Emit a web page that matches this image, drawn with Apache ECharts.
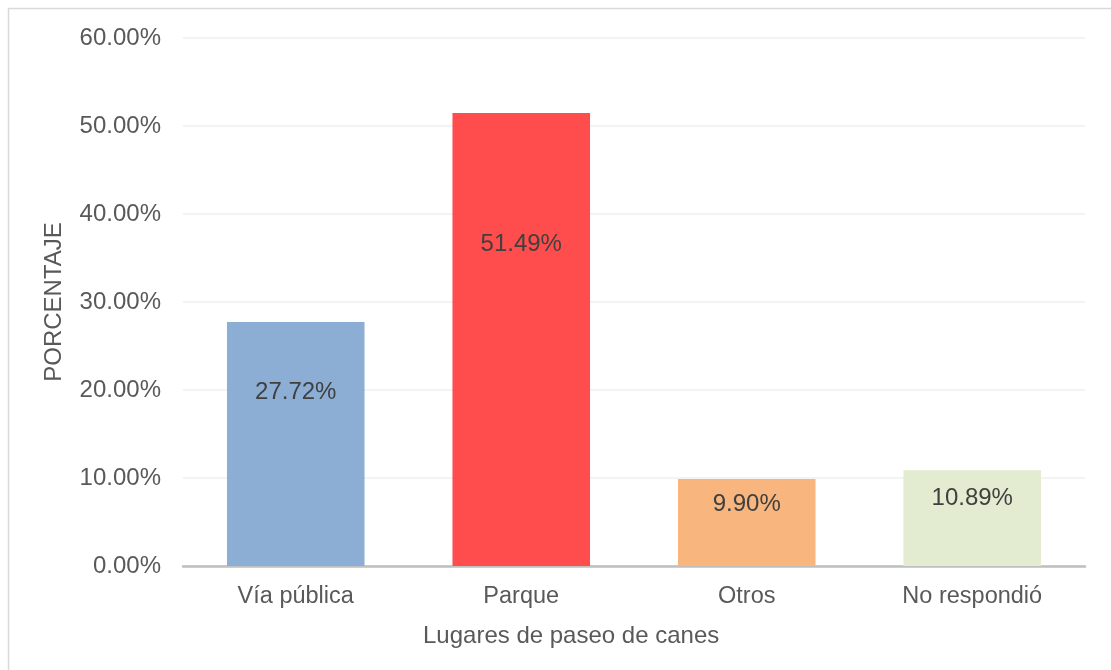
<!DOCTYPE html>
<html>
<head>
<meta charset="utf-8">
<script src="https://cdn.jsdelivr.net/npm/echarts@6/dist/echarts.min.js"></script>
<style>
  html, body { margin: 0; padding: 0; background: #fff; }
  #main { width: 1111px; height: 670px; }
</style>
</head>
<body>
<div id="main"></div>
<script>
// datos del gráfico
var categorias = ['Vía pública', 'Parque', 'Otros', 'No respondió'];
var porcentajes = [27.72, 51.49, 9.90, 10.89];
var colores = ['#8CADD4', '#FF4D4D', '#F8B57D', '#E3EBD1'];
var yMin = 0, yMax = 60, yPaso = 10;

var myChart = echarts.init(document.getElementById('main'));
var fuente = '"Liberation Sans", Arial, sans-serif';

myChart.setOption({
  animation: false,
  textStyle: { fontFamily: fuente },
  grid: { left: 183, right: 26, top: 38, bottom: 104 },
  graphic: [
    {
      type: 'rect',
      shape: { x: 8.5, y: 8.5, width: 1120, height: 700 },
      style: { fill: 'none', stroke: '#D9D9D9', lineWidth: 1.5 },
      silent: true
    },
    {
      type: 'text',
      left: 423,
      top: 624,
      style: { text: 'Lugares de paseo de canes', fill: '#595959', font: '24px ' + fuente }
    }
  ],
  xAxis: {
    type: 'category',
    data: categorias,
    axisTick: { show: false },
    axisLine: { lineStyle: { color: '#BFBFBF', width: 2.5 } },
    axisLabel: { color: '#595959', fontSize: 23.5, margin: 19 }
  },
  yAxis: {
    type: 'value',
    min: yMin,
    max: yMax,
    interval: yPaso,
    name: 'PORCENTAJE',
    nameLocation: 'middle',
    nameGap: 117,
    nameTextStyle: { color: '#595959', fontSize: 24 },
    axisLine: { show: false },
    axisTick: { show: false },
    axisLabel: {
      color: '#595959',
      fontSize: 24,
      margin: 22,
      formatter: function (v) { return v.toFixed(2) + '%'; }
    },
    splitLine: { lineStyle: { color: '#EFEFEF', width: 1.5 } }
  },
  series: [{
    type: 'bar',
    barCategoryGap: '39%',
    data: porcentajes.map(function (v, i) {
      return { value: v, itemStyle: { color: colores[i] } };
    }),
    label: {
      show: true,
      position: ['50%', '29%'],
      align: 'center',
      verticalAlign: 'middle',
      color: '#404040',
      fontSize: 24,
      formatter: function (p) { return p.value.toFixed(2) + '%'; }
    }
  }]
});
</script>
</body>
</html>
